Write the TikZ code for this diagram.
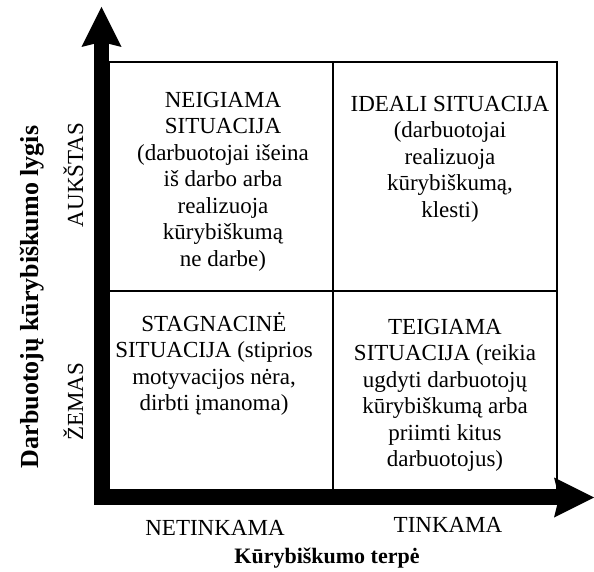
\documentclass[tikz,border=0pt]{standalone}
\usepackage{fontspec}
\setmainfont{Liberation Serif}
\usetikzlibrary{arrows.meta}
\begin{document}
\begin{tikzpicture}[x=1pt,y=-1pt,
  quad/.style={draw, line width=1.7pt, minimum width=224pt, inner sep=0pt},
  qtext/.style={align=center, anchor=north, inner sep=0pt, font=\fontsize{23}{26.5}\selectfont},
  axlabel/.style={inner sep=0pt, anchor=base, font=\fontsize{23}{26}\selectfont},
  axtitle/.style={inner sep=0pt, anchor=base, font=\bfseries\fontsize{22}{26}\selectfont},
  axtip/.tip={Stealth[length=40pt, width=40pt, inset=5pt, line width=0pt]},
  axis/.style={line width=15pt, line join=miter, axtip-axtip}]
\useasboundingbox (0,0) rectangle (594,572);
% quadrants
\node[quad, minimum height=229pt] (q1) at (221,176.5) {};
\node[quad, minimum height=229pt] (q2) at (445,176.5) {};
\node[quad, minimum height=199pt] (q3) at (221,390.5) {};
\node[quad, minimum height=199pt] (q4) at (445,390.5) {};
% texts
\node[qtext] (t1) at (223,92) {NEIGIAMA\\SITUACIJA\\(darbuotojai išeina\\iš darbo arba\\realizuoja\\kūrybiškumą\\ne darbe)};
\node[qtext] (t2) at (450,96) {IDEALI SITUACIJA\\(darbuotojai\\realizuoja\\kūrybiškumą,\\klesti)};
\node[qtext] (t3) at (214,312) {STAGNACINĖ\\SITUACIJA (stiprios\\motyvacijos nėra,\\dirbti įmanoma)};
\node[qtext] (t4) at (445,319) {TEIGIAMA\\SITUACIJA (reikia\\ugdyti darbuotojų\\kūrybiškumą arba\\priimti kitus\\darbuotojus)};
% axes
\coordinate (o) at (101.5,497.5);
\coordinate (ytip) at (101.5,7);
\coordinate (xtip) at (594,497.5);
\draw[axis] (ytip) -- (o) -- (xtip);
% axis labels
\node[axlabel] (xlo) at (215,535) {NETINKAMA};
\node[axlabel] (xhi) at (448,532) {TINKAMA};
\node[axtitle] (xt) at (327,563) {Kūrybiškumo terpė};
\node[axlabel, rotate=90] (yhi) at (83,175) {AUKŠTAS};
\node[axlabel, rotate=90] (ylo) at (83,402) {ŽEMAS};
\node[axtitle, rotate=90, font=\bfseries\fontsize{26}{30}\selectfont] (yt) at (38,297) {Darbuotojų kūrybiškumo lygis};
\end{tikzpicture}
\end{document}
